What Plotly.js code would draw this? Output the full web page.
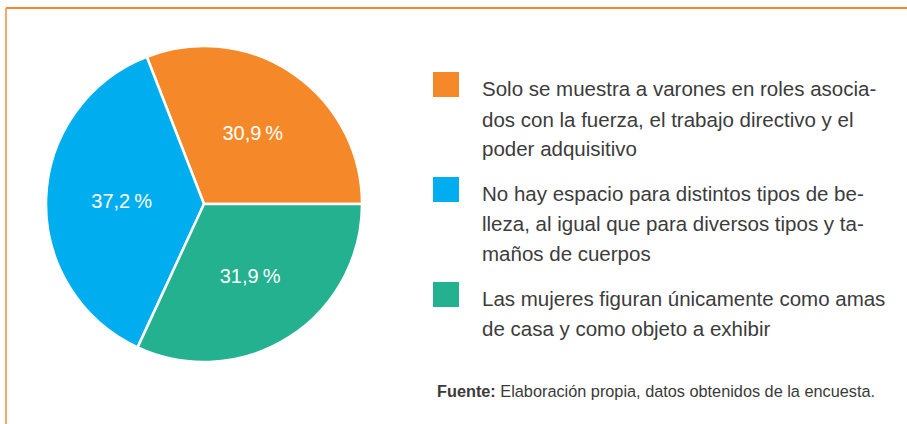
<!DOCTYPE html>
<html>
<head>
<meta charset="utf-8">
<script src="https://cdn.plot.ly/plotly-3.0.1.min.js"></script>
<style>html,body{margin:0;padding:0;background:#fff;}#chart{width:907px;height:424px;}</style>
</head>
<body>
<div id="chart"></div>
<script>
// ---- data ----
const categories = [
  'Solo se muestra a varones en roles asociados con la fuerza, el trabajo directivo y el poder adquisitivo',
  'No hay espacio para distintos tipos de belleza, al igual que para diversos tipos y tamaños de cuerpos',
  'Las mujeres figuran únicamente como amas de casa y como objeto a exhibir'
];
const values = [30.9, 37.2, 31.9];
const legendLines = [
  ['Solo se muestra a varones en roles asocia-', 'dos con la fuerza, el trabajo directivo y el', 'poder adquisitivo'],
  ['No hay espacio para distintos tipos de be-', 'lleza, al igual que para diversos tipos y ta-', 'maños de cuerpos'],
  ['Las mujeres figuran únicamente como amas', 'de casa y como objeto a exhibir']
];
const sourceLabel = 'Fuente:';
const sourceText = 'Elaboración propia, datos obtenidos de la encuesta.';

// ---- styles ----
const colors = ['#F5892A', '#00AEEF', '#24B18F'];
const W = 907, H = 424;
const px = x => x / W;
const py = y => 1 - y / H;
const FONT = 'Liberation Sans, Arial, sans-serif';

const labels = values.map(v => v.toFixed(1).replace('.', ',') + '\u2009%');
const total = values.reduce((a, b) => a + b, 0);
// first slice ends at 3 o'clock, remaining slices continue counterclockwise
const rotation = 90 - values[0] / total * 360;

const trace = {
  type: 'pie',
  labels: categories,
  values: values,
  text: labels,
  textinfo: 'text',
  textposition: 'inside',
  insidetextorientation: 'horizontal',
  textfont: {family: FONT, size: 20, color: '#ffffff'},
  sort: false,
  direction: 'counterclockwise',
  rotation: rotation,
  marker: {colors: colors, line: {color: '#ffffff', width: 2.5}},
  hoverinfo: 'none',
  showlegend: false,
  domain: {x: [px(46), px(362)], y: [py(362), py(46)]}
};

const shapes = [
  {type: 'line', xref: 'paper', yref: 'paper', x0: px(6), x1: 1, y0: py(8), y1: py(8), line: {color: '#F7882A', width: 2}},
  {type: 'line', xref: 'paper', yref: 'paper', x0: px(6), x1: px(6), y0: py(8), y1: 0, line: {color: '#F9A868', width: 2}}
];
const annotations = [];
const itemTop = [72, 177, 282];
const lineStart = [89, 193, 298];
const lineGap = 30;
legendLines.forEach((lines, i) => {
  shapes.push({type: 'rect', xref: 'paper', yref: 'paper', x0: px(433), x1: px(459), y0: py(itemTop[i] + 25), y1: py(itemTop[i]),
    fillcolor: colors[i], line: {width: 0}});
  lines.forEach((t, j) => {
    annotations.push({xref: 'paper', yref: 'paper', x: px(480), y: py(lineStart[i] + j * lineGap), xanchor: 'left', yanchor: 'middle',
      text: t, showarrow: false, font: {family: FONT, size: 20.5, color: '#3c3c3c'}});
  });
});
annotations.push({xref: 'paper', yref: 'paper', x: px(877), y: py(391), xanchor: 'right', yanchor: 'middle', showarrow: false,
  text: '<b>' + sourceLabel + '</b> ' + sourceText, font: {family: FONT, size: 16.3, color: '#3a3a3a'}});

const layout = {
  width: W, height: H,
  margin: {l: 0, r: 0, t: 0, b: 0},
  paper_bgcolor: '#ffffff',
  shapes: shapes,
  annotations: annotations
};
Plotly.newPlot('chart', [trace], layout, {displayModeBar: false, staticPlot: true});
</script>
</body>
</html>
